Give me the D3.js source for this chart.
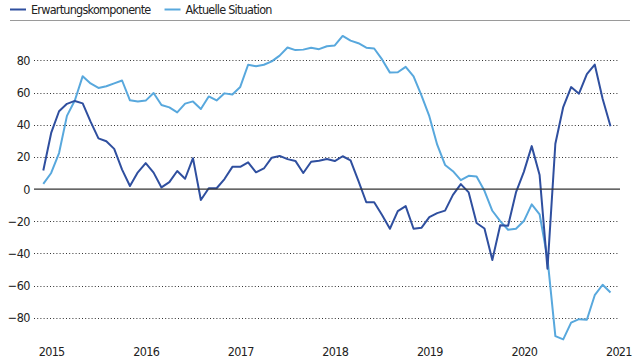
<!DOCTYPE html>
<html>
<head>
<meta charset="utf-8">
<script src="https://cdn.jsdelivr.net/npm/d3@7"></script>
<style>
  html, body { margin: 0; padding: 0; background: #fff; }
  svg { display: block; }
  text { font-family: "Liberation Sans Narrow", "Arial Narrow", "DejaVu Sans Condensed", sans-serif; fill: #222; }
</style>
</head>
<body>
<svg id="chart" width="640" height="360"></svg>
<script>
// Monthly data, Nov 2014 – Nov 2020
const startYear = 2014, startMonth = 10; // November 2014 (0-based month)
const seriesNames = ["Erwartungskomponente", "Aktuelle Situation"];
const erwartung = [
  11.5, 34.9,
  48.4, 53.0, 54.8, 53.3, 41.9, 31.5, 29.7, 25.0, 12.1, 1.9, 10.4, 16.1,
  10.2, 1.0, 4.3, 11.2, 6.4, 19.2, -6.8, 0.5, 0.5, 6.2, 13.8, 13.8,
  16.6, 10.4, 12.8, 19.5, 20.6, 18.6, 17.5, 10.0, 17.0, 17.6, 18.7, 17.4,
  20.4, 17.8, 5.1, -8.2, -8.2, -16.1, -24.7, -13.7, -10.6, -24.7, -24.1, -17.5,
  -15.0, -13.4, -3.6, 3.1, -2.1, -21.1, -24.5, -44.1, -22.5, -22.8, -2.1, 10.7,
  26.7, 8.7, -49.5, 28.2, 51.0, 63.4, 59.3, 71.5, 77.4, 56.1, 39.0
];
const aktuell = [
  3.2, 10.0,
  22.4, 45.5, 55.1, 70.2, 65.7, 62.9, 63.9, 65.7, 67.5, 55.2, 54.4, 55.0,
  59.7, 52.3, 50.8, 47.7, 53.1, 54.5, 49.8, 57.6, 55.1, 59.5, 58.8, 63.5,
  77.3, 76.4, 77.3, 79.4, 83.0, 88.0, 86.4, 86.7, 87.9, 87.0, 88.8, 89.3,
  95.2, 92.3, 90.7, 87.9, 87.4, 80.6, 72.4, 72.6, 76.0, 70.1, 58.2, 45.3,
  27.6, 15.0, 11.1, 5.5, 8.2, 7.8, -1.1, -13.5, -19.9, -25.3, -24.7, -19.9,
  -9.5, -15.7, -43.1, -91.5, -93.5, -83.1, -80.9, -81.3, -66.0, -59.5, -64.3
];
const yTicks = [-80, -60, -40, -20, 0, 20, 40, 60, 80];
const yearLabels = [2015, 2016, 2017, 2018, 2019, 2020, 2021];

const colors = ["#2f4f9f", "#58a8dd"];

const svg = d3.select("#chart");
const n = erwartung.length;
const x = d3.scaleLinear().domain([0, n - 1]).range([43.3, 610.5]);
const y = d3.scaleLinear().domain([-80, 80]).range([317.7, 60.4]);
const monthIndex = (yr, m) => (yr - startYear) * 12 + (m - startMonth);

// top rule
svg.append("line").attr("x1", 10).attr("x2", 630).attr("y1", 20.5).attr("y2", 20.5)
  .attr("stroke", "#9a9a9a").attr("stroke-width", 1);

// grid
const grid = svg.append("g");
grid.selectAll("line.grid").data(yTicks.filter(d => d !== 0)).join("line")
  .attr("class", "grid")
  .attr("x1", 34).attr("x2", 618)
  .attr("y1", d => Math.round(y(d)) + 0.5).attr("y2", d => Math.round(y(d)) + 0.5)
  .attr("stroke", "#333").attr("stroke-width", 1).attr("stroke-dasharray", "1,2.2");

// y labels
svg.append("g").selectAll("text").data(yTicks).join("text")
  .attr("x", 30).attr("y", d => y(d)).attr("dy", "0.36em")
  .attr("text-anchor", "end").attr("font-size", 12.5).attr("letter-spacing", -0.5)
  .text(d => d < 0 ? "\u2212" + Math.abs(d) : d);

// x labels (centered one month before January)
svg.append("g").selectAll("text").data(yearLabels).join("text")
  .attr("x", d => x(monthIndex(d, 0) - 1) + 0.5).attr("y", 356)
  .attr("text-anchor", "middle").attr("font-size", 12.5).attr("letter-spacing", -0.7)
  .text(d => d);

// lines
const line = d3.line().x((d, i) => x(i)).y(d => y(d));
[aktuell, erwartung].forEach((s, k) => {
  svg.append("path").datum(s)
    .attr("fill", "none")
    .attr("stroke", k === 0 ? colors[1] : colors[0])
    .attr("stroke-width", 2)
    .attr("stroke-linejoin", "round")
    .attr("d", line);
});

// zero line
svg.append("line").attr("x1", 34).attr("x2", 620)
  .attr("y1", y(0)).attr("y2", y(0))
  .attr("stroke", "#333").attr("stroke-width", 1.2);

// legend
const leg = svg.append("g");
let lx = 10;
seriesNames.forEach((name, i) => {
  leg.append("line").attr("x1", lx).attr("x2", lx + 16).attr("y1", 9.5).attr("y2", 9.5)
    .attr("stroke", colors[i]).attr("stroke-width", 2);
  const t = leg.append("text").attr("x", lx + 21).attr("y", 14)
    .attr("font-size", 12.5).attr("letter-spacing", -0.75).text(name);
  lx = lx + 21 + t.node().getComputedTextLength() + 14;
});
</script>
</body>
</html>
